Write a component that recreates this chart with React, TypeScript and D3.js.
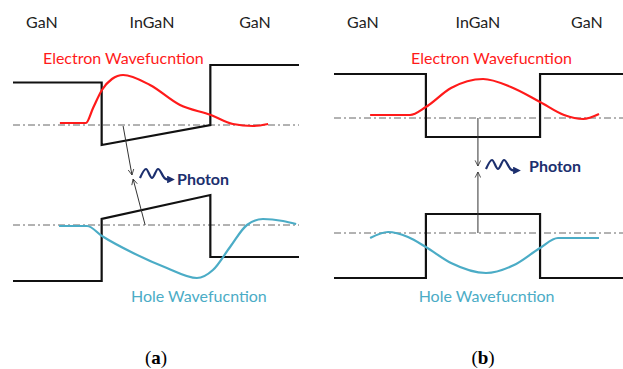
import React from "react";
import { curveMonotoneX, line, scaleLinear } from "d3";

// band diagram data: x = position across panel (0..100), E = energy (0..100)
const layerNames = ["GaN", "InGaN", "GaN"];
const panelLetters = ["a", "b"];

const cbA = [[0, 87], [31, 87], [31, 62], [69, 70], [69, 94], [100, 94]];
const vbA = [[0, 7.6], [31, 7.6], [31, 32.4], [69, 42], [69, 17.2], [100, 17.2]];
const cbB = [[0, 90.4], [31.8, 90.4], [31.8, 65.2], [71.3, 65.2], [71.3, 90.4], [100, 90.4]];
const vbB = [[0, 8.8], [31.8, 8.8], [31.8, 34.4], [71.3, 34.4], [71.3, 8.8], [100, 8.8]];

const electronX_A = [16.4, 25.5, 28, 31.1, 34.6, 38.5, 47.9, 58.4, 69.2, 76.9, 83.9, 89.2];
const electronE_A = [70.8, 70.8, 76.8, 84, 88.4, 90, 86, 78, 74, 70.4, 69.6, 70.4];
const holeX_A = [16.1, 25.9, 31.1, 42, 53.8, 64.3, 69.9, 75.9, 81.8, 87.4, 94.4, 99];
const holeE_A = [29.6, 29.6, 25.6, 18.8, 12.8, 8.8, 12, 21.2, 30, 32.4, 31.6, 30.4];

const electronX_B = [12.5, 26.3, 31.8, 40.5, 51.6, 61.2, 71.3, 79.6, 86.2, 91.7];
const electronE_B = [74, 74, 77.2, 84.8, 88.4, 85.2, 79.2, 74, 72.4, 74.4];
const holeX_B = [12.5, 18.7, 25.6, 31.8, 40.5, 52.6, 62.3, 71.3, 77.5, 91.7];
const holeE_B = [24.8, 27.2, 25.2, 21.2, 14.8, 10.8, 14, 20.8, 24.8, 24.8];

// ground state levels [electron, hole]
const levelsA = [70, 30];
const levelsB = [72.8, 26.8];

// recombination arrows: [x0, E0, x1, E1]
const transA = [[38.5, 69.6, 41.6, 50], [46.2, 30, 42, 48.4]];
const transB = [[49.8, 72.8, 49.8, 53.6], [49.8, 26.8, 49.8, 51.2]];

// photon squiggle shape (local units)
const photonWave = [[0, 9], [6, 0], [12, 9], [18, 0], [25, 9.5], [28, 10.5], [31, 10.5]];

const zip = (xs: number[], ys: number[]) => xs.map((x, i) => [x, ys[i]]);

const W = 623;
const H = 369;
const y = scaleLinear().domain([0, 100]).range([300, 50]);

const panels = [
  {
    letter: panelLetters[0],
    x: scaleLinear().domain([0, 100]).range([13, 299]),
    cb: cbA, vb: vbA,
    ewf: zip(electronX_A, electronE_A), hwf: zip(holeX_A, holeE_A),
    levels: levelsA, trans: transA,
    layerPos: [10.1, 48.6, 84.6],
    eTitle: 38.6, hTitle: 65,
    photon: [140, 169], photonText: [177, 185],
    caption: 156,
  },
  {
    letter: panelLetters[1],
    x: scaleLinear().domain([0, 100]).range([334, 623]),
    cb: cbB, vb: vbB,
    ewf: zip(electronX_B, electronE_B), hwf: zip(holeX_B, holeE_B),
    levels: levelsB, trans: transB,
    layerPos: [10, 49.8, 87.5],
    eTitle: 54.5, hTitle: 52.8,
    photon: [486, 160], photonText: [529, 172],
    caption: 483,
  },
];

const sans = "Lato, 'Open Sans', sans-serif";
const red = "#ff1a1a";
const teal = "#4bacc6";
const navy = "#1c2f6e";

export default function App() {
  const waveX = scaleLinear().domain([0, 31]).range([0, 31]);
  const waveY = scaleLinear().domain([0, 10]).range([0, 10]);
  const wave = line<number[]>().x((d) => waveX(d[0])).y((d) => waveY(d[1])).curve(curveMonotoneX);

  return (
    <svg width={W} height={H} style={{ position: "absolute", left: 0, top: 0, background: "#fff" }}>
      <defs>
        <marker id="openArrow" viewBox="0 0 10 10" refX="9" refY="5" markerWidth="7" markerHeight="7" orient="auto">
          <path d="M1,1 L9,5 L1,9" fill="none" stroke="#333" strokeWidth={1.2} />
        </marker>
        <marker id="photonArrow" viewBox="0 0 10 10" refX="5" refY="5" markerWidth="3.5" markerHeight="3.5" orient="auto">
          <path d="M0,0 L10,5 L0,10 Z" fill={navy} />
        </marker>
      </defs>
      {panels.map((p) => {
        const band = line<number[]>().x((d) => p.x(d[0])).y((d) => y(d[1]));
        const wf = line<number[]>().x((d) => p.x(d[0])).y((d) => y(d[1])).curve(curveMonotoneX);
        return (
          <g key={p.letter}>
            {layerNames.map((name, i) => (
              <text key={i} x={p.x(p.layerPos[i])} y={28} textAnchor="middle" fontFamily={sans} fontSize={16} fill="#222">
                {name}
              </text>
            ))}
            {p.levels.map((lv, i) => (
              <line key={i} x1={p.x(0)} x2={p.x(100)} y1={y(lv)} y2={y(lv)} stroke="#555" strokeWidth={0.9} strokeDasharray="7,3,2,3" />
            ))}
            <path d={band(p.cb) ?? ""} fill="none" stroke="#111" strokeWidth={2.2} />
            <path d={band(p.vb) ?? ""} fill="none" stroke="#111" strokeWidth={2.2} />
            <path d={wf(p.ewf) ?? ""} fill="none" stroke={red} strokeWidth={2.2} />
            <path d={wf(p.hwf) ?? ""} fill="none" stroke={teal} strokeWidth={2.2} />
            {p.trans.map((t, i) => (
              <line key={i} x1={p.x(t[0])} y1={y(t[1])} x2={p.x(t[2])} y2={y(t[3])} stroke="#333" strokeWidth={1} markerEnd="url(#openArrow)" />
            ))}
            <text x={p.x(p.eTitle)} y={64} textAnchor="middle" fontFamily={sans} fontSize={16} fill={red}>
              Electron Wavefucntion
            </text>
            <text x={p.x(p.hTitle)} y={302} textAnchor="middle" fontFamily={sans} fontSize={16} fill={teal}>
              Hole Wavefucntion
            </text>
            <g transform={`translate(${p.photon[0]},${p.photon[1]})`}>
              <path d={wave(photonWave) ?? ""} fill="none" stroke={navy} strokeWidth={2.2} markerEnd="url(#photonArrow)" />
            </g>
            <text x={p.photonText[0]} y={p.photonText[1]} fontFamily={sans} fontWeight="bold" fontSize={16} fill={navy}>
              Photon
            </text>
            <text x={p.caption} y={364} textAnchor="middle" fontFamily="'Liberation Serif', serif" fontSize={19} fill="#000">
              (<tspan fontWeight="bold">{p.letter}</tspan>)
            </text>
          </g>
        );
      })}
    </svg>
  );
}
